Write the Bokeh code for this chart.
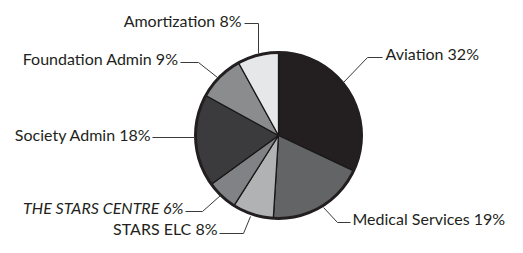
import numpy as np
from bokeh.plotting import figure
from bokeh.models import Range1d, ColumnDataSource
from bokeh.core.properties import value
from bokeh.embed import file_html
from bokeh.resources import INLINE

# ---- data ----
categories = ["Aviation", "Medical Services", "STARS ELC", "THE STARS CENTRE",
              "Society Admin", "Foundation Admin", "Amortization"]
shares = [32, 19, 8, 6, 18, 9, 8]
colors = ["#231f20", "#636466", "#b1b2b4", "#818285", "#3b3b3d", "#8b8c8e", "#e6e7e8"]

W, H = 507, 237
p = figure(width=W, height=H, output_backend="svg", toolbar_location=None,
           x_range=Range1d(0, W), y_range=Range1d(0, H), min_border=0)
p.axis.visible = False
p.grid.visible = False
p.outline_line_color = None
p.background_fill_color = "white"
p.border_fill_color = "white"


def px(x, y):
    # picture pixel -> data coords (y flipped)
    return x, H - y

cx, cy = px(278, 135)
R = 83

frac = np.array(shares, dtype=float) / sum(shares)
cum = np.concatenate([[0], np.cumsum(frac)])
start = np.pi / 2 - cum[:-1] * 2 * np.pi
end = np.pi / 2 - cum[1:] * 2 * np.pi

src = ColumnDataSource(dict(start=start, end=end, color=colors))
p.wedge(x=cx, y=cy, radius=R, start_angle="start", end_angle="end",
        direction="clock", fill_color="color", line_color="#1a1718",
        line_width=1.3, source=src)
p.circle(x=cx, y=cy, radius=R, fill_color=None, line_color="#231f20", line_width=3)

# ---- labels and leader lines (layout) ----
labels = [f"{c} {s}%" for c, s in zip(categories, shares)]
leaders = [
    [(343, 82), (367, 57), (382, 57)],
    [(323, 207), (337, 222), (350, 222)],
    [(250, 216), (243, 233), (219, 233)],
    [(220, 195), (202, 211), (185, 211)],
    [(194, 137), (152, 137)],
    [(217, 77), (198, 62), (180, 62)],
    [(258, 53), (258, 23), (244, 23)],
]
text_pos = [(385, 52.5, "left"), (352, 218, "left"), (217, 228, "right"),
            (183, 207, "right"), (151, 134, "right"), (178, 58, "right"),
            (241, 19.5, "right")]

for pts in leaders:
    xs, ys = zip(*[px(a, b) for a, b in pts])
    p.line(list(xs), list(ys), line_color="#3a3a3a", line_width=1)

for i, (lab, (tx, ty, al)) in enumerate(zip(labels, text_pos)):
    x, y = px(tx, ty)
    style = "italic" if categories[i] == "THE STARS CENTRE" else "normal"
    p.text(x=[x], y=[y], text=[lab], text_align=al,
           text_baseline="middle", text_font=value("Lato"),
           text_font_style=style,
           text_font_size="16px", text_color="#231f20")

open("out.html", "w").write(file_html(p, INLINE))
